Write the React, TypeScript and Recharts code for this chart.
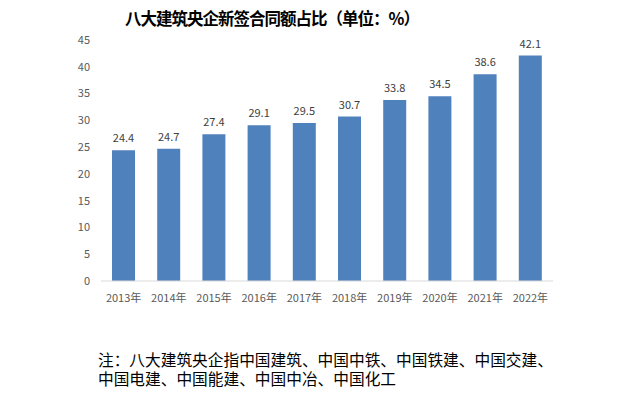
import { BarChart, Bar, XAxis, YAxis, LabelList } from "recharts";

const years = ["2013年", "2014年", "2015年", "2016年", "2017年", "2018年", "2019年", "2020年", "2021年", "2022年"];
const shares = [24.4, 24.7, 27.4, 29.1, 29.5, 30.7, 33.8, 34.5, 38.6, 42.1];
const yTicks = [0, 5, 10, 15, 20, 25, 30, 35, 40, 45];

const data = years.map((year, i) => ({ year, share: shares[i] }));

const font = '"Noto Sans CJK SC", "Noto Sans", sans-serif';

export default function App() {
  return (
    <div style={{ position: "absolute", left: 0, top: 0, width: 641, height: 398, background: "#fff", fontFamily: font }}>
      <div
        style={{
          position: "absolute",
          top: 6,
          left: 72,
          width: 400,
          textAlign: "center",
          fontSize: 16.5,
          letterSpacing: -1,
          fontWeight: "bold",
          color: "#000",
          lineHeight: "24px",
        }}
      >
        八大建筑央企新签合同额占比（单位：%）
      </div>
      <div style={{ position: "absolute", top: 0, left: 0 }}>
        <BarChart width={641} height={320} data={data} margin={{ top: 40, right: 88, bottom: 9, left: 0 }}>
          <XAxis
            dataKey="year"
            tickLine={false}
            axisLine={{ stroke: "#d9d9d9" }}
            tick={{ fill: "#595959", fontSize: 11, fontFamily: font }}
            tickMargin={7}
            interval={0}
          />
          <YAxis
            width={101}
            domain={[0, 45]}
            ticks={yTicks}
            axisLine={false}
            tickLine={false}
            tickMargin={5}
            tick={{ fill: "#595959", fontSize: 11, fontFamily: font }}
          />
          <Bar dataKey="share" fill="#4f81bd" barSize={23} isAnimationActive={false}>
            <LabelList dataKey="share" position="top" offset={8} fill="#404040" fontSize={11} fontFamily={font} />
          </Bar>
        </BarChart>
      </div>
      <div
        style={{
          position: "absolute",
          top: 350,
          left: 98,
          fontSize: 15.7,
          lineHeight: "19px",
          color: "#000",
          whiteSpace: "nowrap",
        }}
      >
        注：八大建筑央企指中国建筑、中国中铁、中国铁建、中国交建、
        <br />
        中国电建、中国能建、中国中冶、中国化工
      </div>
    </div>
  );
}
